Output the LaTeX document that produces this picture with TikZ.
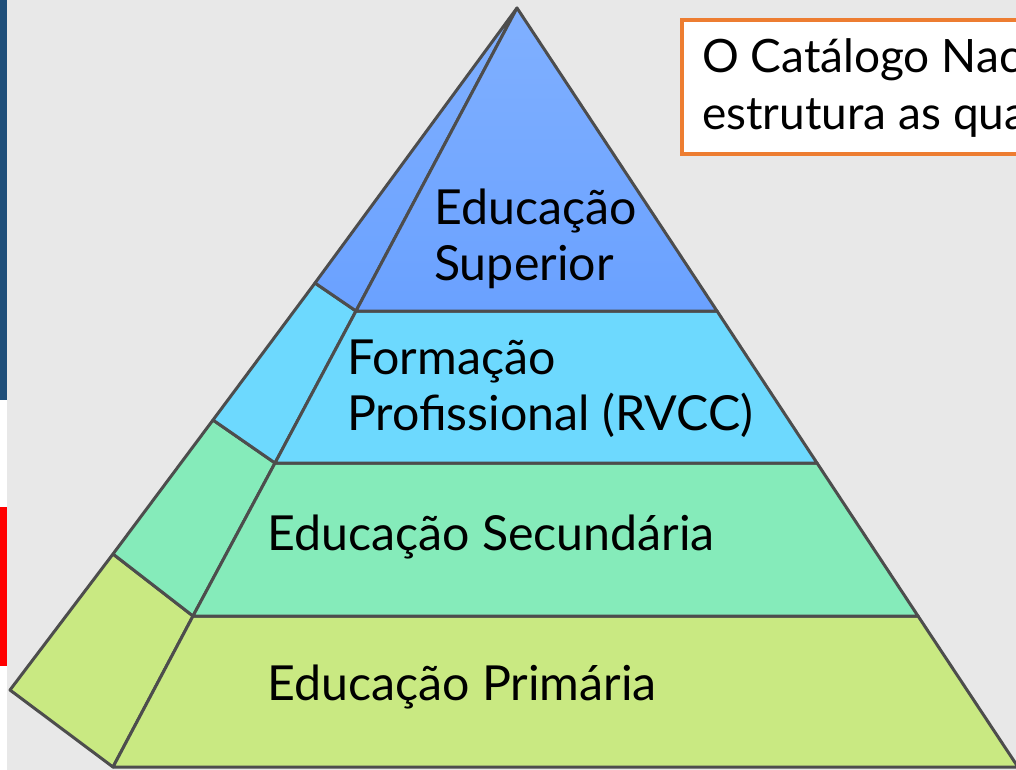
\documentclass[tikz,border=0pt]{standalone}
\usepackage{fontspec}
\setmainfont{Lato}
\usepackage{xcolor}
\usepackage{tikz}

\definecolor{bgGray}{HTML}{E8E8E8}
\definecolor{edgeGray}{HTML}{4D4D4D}
\definecolor{supTop}{HTML}{80B0FF}
\definecolor{supBot}{HTML}{6AA1FF}
\definecolor{profCyan}{HTML}{6DD9FE}
\definecolor{secGreen}{HTML}{85EBBA}
\definecolor{primLime}{HTML}{C9E982}
\definecolor{boxOrange}{HTML}{ED7D31}
\definecolor{stripBlue}{HTML}{1F4E79}

\tikzset{
  face/.style={draw=edgeGray, line width=3pt, line join=round},
  level/.style={anchor=base west, inner sep=0pt, align=left,
    font=\fontsize{48.3}{56}\selectfont},
  boxtext/.style={anchor=base west, inner sep=0pt,
    font=\fontsize{46}{57}\selectfont}
}

\begin{document}
\begin{tikzpicture}[x=1pt, y=-1pt]
\useasboundingbox (0,0) rectangle (1016,770);
\clip (0,0) rectangle (1016,770);
\fill[bgGray] (0,0) rectangle (1016,770);

% strips on the left edge
\fill[stripBlue] (0,0) rectangle (7,400);
\fill[white] (0,400) rectangle (7,507);
\fill[red] (0,507) rectangle (7,666);
\fill[white] (0,666) rectangle (7,770);

% corners of the pyramid
\coordinate (apex) at (517,8);
\coordinate (f0) at (113,767);   \coordinate (r0) at (1018,767);
\coordinate (f1) at (193,616);   \coordinate (r1) at (918,616);
\coordinate (f2) at (275,463);   \coordinate (r2) at (817,463);
\coordinate (f3) at (356,311);   \coordinate (r3) at (717,311);
\coordinate (s0) at (10,690);
\coordinate (s1) at (113,554);
\coordinate (s2) at (213,420);
\coordinate (s3) at (315,283);

% side faces
\draw[face, fill=primLime] (s0) -- (f0) -- (f1) -- (s1) -- cycle;
\draw[face, fill=secGreen] (s1) -- (f1) -- (f2) -- (s2) -- cycle;
\draw[face, fill=profCyan] (s2) -- (f2) -- (f3) -- (s3) -- cycle;
\draw[face, top color=supTop, bottom color=supBot] (s3) -- (f3) -- (apex) -- cycle;

% front faces
\draw[face, fill=primLime] (f0) -- (r0) -- (r1) -- (f1) -- cycle;
\draw[face, fill=secGreen] (f1) -- (r1) -- (r2) -- (f2) -- cycle;
\draw[face, fill=profCyan] (f2) -- (r2) -- (r3) -- (f3) -- cycle;
\draw[face, top color=supTop, bottom color=supBot] (f3) -- (r3) -- (apex) -- cycle;

% labels (base = last line)
\node[level] (sup) at (434,280) {Educação\\Superior};
\node[level] (prof) at (347,430) {Formação\\Profissional (RVCC)};
\node[level] (sec) at (267,550) {Educação Secundária};
\node[level] (prim) at (267,700) {Educação Primária};

% text box, top right
\draw[boxOrange, line width=4pt, fill=white] (682,20) rectangle (1040,154);
\node[boxtext] (cat1) at (702,73) {O Catálogo Nac};
\node[boxtext] (cat2) at (702,130) {estrutura as qua};
\end{tikzpicture}
\end{document}
